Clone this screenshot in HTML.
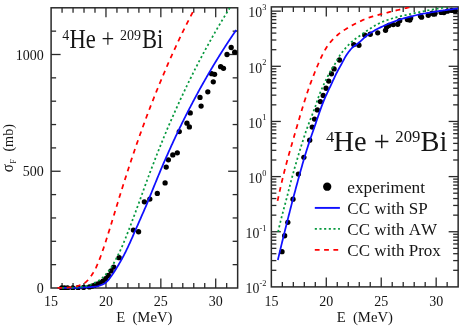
<!DOCTYPE html>
<html><head><meta charset="utf-8"><title>Fusion cross sections 4He + 209Bi</title>
<style>html,body{margin:0;padding:0;background:#fff;}body{width:463px;height:328px;overflow:hidden;font-family:"Liberation Serif",serif;}svg{display:block;will-change:transform;opacity:0.999}</style>
</head><body>
<svg width="463" height="328" viewBox="0 0 463 328">
<clipPath id="cl"><rect x="51.1" y="7.8" width="186.55" height="282.2"/></clipPath>
<clipPath id="cr"><rect x="271.35" y="6.9" width="186.79999999999995" height="280.0"/></clipPath>
<rect x="51.1" y="7.8" width="186.55" height="280.20" fill="none" stroke="#2a2a2a" stroke-width="1.5"/>
<line x1="62.07" y1="288.00" x2="62.07" y2="283.00" stroke="#2a2a2a" stroke-width="1.3" />
<line x1="62.07" y1="7.80" x2="62.07" y2="12.80" stroke="#2a2a2a" stroke-width="1.3" />
<line x1="73.05" y1="288.00" x2="73.05" y2="283.00" stroke="#2a2a2a" stroke-width="1.3" />
<line x1="73.05" y1="7.80" x2="73.05" y2="12.80" stroke="#2a2a2a" stroke-width="1.3" />
<line x1="84.02" y1="288.00" x2="84.02" y2="283.00" stroke="#2a2a2a" stroke-width="1.3" />
<line x1="84.02" y1="7.80" x2="84.02" y2="12.80" stroke="#2a2a2a" stroke-width="1.3" />
<line x1="94.99" y1="288.00" x2="94.99" y2="283.00" stroke="#2a2a2a" stroke-width="1.3" />
<line x1="94.99" y1="7.80" x2="94.99" y2="12.80" stroke="#2a2a2a" stroke-width="1.3" />
<line x1="105.97" y1="288.00" x2="105.97" y2="278.50" stroke="#2a2a2a" stroke-width="1.3" />
<line x1="105.97" y1="7.80" x2="105.97" y2="17.30" stroke="#2a2a2a" stroke-width="1.3" />
<line x1="116.94" y1="288.00" x2="116.94" y2="283.00" stroke="#2a2a2a" stroke-width="1.3" />
<line x1="116.94" y1="7.80" x2="116.94" y2="12.80" stroke="#2a2a2a" stroke-width="1.3" />
<line x1="127.91" y1="288.00" x2="127.91" y2="283.00" stroke="#2a2a2a" stroke-width="1.3" />
<line x1="127.91" y1="7.80" x2="127.91" y2="12.80" stroke="#2a2a2a" stroke-width="1.3" />
<line x1="138.89" y1="288.00" x2="138.89" y2="283.00" stroke="#2a2a2a" stroke-width="1.3" />
<line x1="138.89" y1="7.80" x2="138.89" y2="12.80" stroke="#2a2a2a" stroke-width="1.3" />
<line x1="149.86" y1="288.00" x2="149.86" y2="283.00" stroke="#2a2a2a" stroke-width="1.3" />
<line x1="149.86" y1="7.80" x2="149.86" y2="12.80" stroke="#2a2a2a" stroke-width="1.3" />
<line x1="160.84" y1="288.00" x2="160.84" y2="278.50" stroke="#2a2a2a" stroke-width="1.3" />
<line x1="160.84" y1="7.80" x2="160.84" y2="17.30" stroke="#2a2a2a" stroke-width="1.3" />
<line x1="171.81" y1="288.00" x2="171.81" y2="283.00" stroke="#2a2a2a" stroke-width="1.3" />
<line x1="171.81" y1="7.80" x2="171.81" y2="12.80" stroke="#2a2a2a" stroke-width="1.3" />
<line x1="182.78" y1="288.00" x2="182.78" y2="283.00" stroke="#2a2a2a" stroke-width="1.3" />
<line x1="182.78" y1="7.80" x2="182.78" y2="12.80" stroke="#2a2a2a" stroke-width="1.3" />
<line x1="193.76" y1="288.00" x2="193.76" y2="283.00" stroke="#2a2a2a" stroke-width="1.3" />
<line x1="193.76" y1="7.80" x2="193.76" y2="12.80" stroke="#2a2a2a" stroke-width="1.3" />
<line x1="204.73" y1="288.00" x2="204.73" y2="283.00" stroke="#2a2a2a" stroke-width="1.3" />
<line x1="204.73" y1="7.80" x2="204.73" y2="12.80" stroke="#2a2a2a" stroke-width="1.3" />
<line x1="215.70" y1="288.00" x2="215.70" y2="278.50" stroke="#2a2a2a" stroke-width="1.3" />
<line x1="215.70" y1="7.80" x2="215.70" y2="17.30" stroke="#2a2a2a" stroke-width="1.3" />
<line x1="226.68" y1="288.00" x2="226.68" y2="283.00" stroke="#2a2a2a" stroke-width="1.3" />
<line x1="226.68" y1="7.80" x2="226.68" y2="12.80" stroke="#2a2a2a" stroke-width="1.3" />
<line x1="51.10" y1="264.65" x2="56.10" y2="264.65" stroke="#2a2a2a" stroke-width="1.3" />
<line x1="237.65" y1="264.65" x2="232.65" y2="264.65" stroke="#2a2a2a" stroke-width="1.3" />
<line x1="51.10" y1="241.30" x2="56.10" y2="241.30" stroke="#2a2a2a" stroke-width="1.3" />
<line x1="237.65" y1="241.30" x2="232.65" y2="241.30" stroke="#2a2a2a" stroke-width="1.3" />
<line x1="51.10" y1="217.95" x2="56.10" y2="217.95" stroke="#2a2a2a" stroke-width="1.3" />
<line x1="237.65" y1="217.95" x2="232.65" y2="217.95" stroke="#2a2a2a" stroke-width="1.3" />
<line x1="51.10" y1="194.60" x2="56.10" y2="194.60" stroke="#2a2a2a" stroke-width="1.3" />
<line x1="237.65" y1="194.60" x2="232.65" y2="194.60" stroke="#2a2a2a" stroke-width="1.3" />
<line x1="51.10" y1="171.25" x2="60.60" y2="171.25" stroke="#2a2a2a" stroke-width="1.3" />
<line x1="237.65" y1="171.25" x2="228.15" y2="171.25" stroke="#2a2a2a" stroke-width="1.3" />
<line x1="51.10" y1="147.90" x2="56.10" y2="147.90" stroke="#2a2a2a" stroke-width="1.3" />
<line x1="237.65" y1="147.90" x2="232.65" y2="147.90" stroke="#2a2a2a" stroke-width="1.3" />
<line x1="51.10" y1="124.55" x2="56.10" y2="124.55" stroke="#2a2a2a" stroke-width="1.3" />
<line x1="237.65" y1="124.55" x2="232.65" y2="124.55" stroke="#2a2a2a" stroke-width="1.3" />
<line x1="51.10" y1="101.20" x2="56.10" y2="101.20" stroke="#2a2a2a" stroke-width="1.3" />
<line x1="237.65" y1="101.20" x2="232.65" y2="101.20" stroke="#2a2a2a" stroke-width="1.3" />
<line x1="51.10" y1="77.85" x2="56.10" y2="77.85" stroke="#2a2a2a" stroke-width="1.3" />
<line x1="237.65" y1="77.85" x2="232.65" y2="77.85" stroke="#2a2a2a" stroke-width="1.3" />
<line x1="51.10" y1="54.50" x2="60.60" y2="54.50" stroke="#2a2a2a" stroke-width="1.3" />
<line x1="237.65" y1="54.50" x2="228.15" y2="54.50" stroke="#2a2a2a" stroke-width="1.3" />
<line x1="51.10" y1="31.15" x2="56.10" y2="31.15" stroke="#2a2a2a" stroke-width="1.3" />
<line x1="237.65" y1="31.15" x2="232.65" y2="31.15" stroke="#2a2a2a" stroke-width="1.3" />
<g clip-path="url(#cl)" fill="none">
<circle cx="61.74" cy="287.99" r="2.65" fill="#000"/>
<circle cx="64.38" cy="287.98" r="2.65" fill="#000"/>
<circle cx="67.56" cy="287.97" r="2.65" fill="#000"/>
<circle cx="72.72" cy="287.91" r="2.65" fill="#000"/>
<circle cx="78.09" cy="287.74" r="2.65" fill="#000"/>
<circle cx="83.58" cy="287.48" r="2.65" fill="#000"/>
<circle cx="89.40" cy="286.93" r="2.65" fill="#000"/>
<circle cx="91.92" cy="286.16" r="2.65" fill="#000"/>
<circle cx="94.23" cy="285.42" r="2.65" fill="#000"/>
<circle cx="97.08" cy="284.22" r="2.65" fill="#000"/>
<circle cx="100.04" cy="282.65" r="2.65" fill="#000"/>
<circle cx="102.90" cy="281.09" r="2.65" fill="#000"/>
<circle cx="105.75" cy="278.66" r="2.65" fill="#000"/>
<circle cx="108.38" cy="275.39" r="2.65" fill="#000"/>
<circle cx="111.13" cy="270.95" r="2.65" fill="#000"/>
<circle cx="113.76" cy="267.10" r="2.65" fill="#000"/>
<circle cx="119.14" cy="257.64" r="2.65" fill="#000"/>
<circle cx="133.40" cy="230.09" r="2.65" fill="#000"/>
<circle cx="138.56" cy="231.73" r="2.65" fill="#000"/>
<circle cx="144.38" cy="201.84" r="2.65" fill="#000"/>
<circle cx="149.86" cy="199.04" r="2.65" fill="#000"/>
<circle cx="157.32" cy="193.43" r="2.65" fill="#000"/>
<circle cx="165.11" cy="182.93" r="2.65" fill="#000"/>
<circle cx="166.21" cy="167.05" r="2.65" fill="#000"/>
<circle cx="168.41" cy="159.81" r="2.65" fill="#000"/>
<circle cx="172.80" cy="154.91" r="2.65" fill="#000"/>
<circle cx="177.30" cy="152.80" r="2.65" fill="#000"/>
<circle cx="179.27" cy="131.56" r="2.65" fill="#000"/>
<circle cx="186.95" cy="123.15" r="2.65" fill="#000"/>
<circle cx="189.37" cy="126.88" r="2.65" fill="#000"/>
<circle cx="190.24" cy="112.88" r="2.65" fill="#000"/>
<circle cx="200.01" cy="97.46" r="2.65" fill="#000"/>
<circle cx="201.11" cy="106.10" r="2.65" fill="#000"/>
<circle cx="207.80" cy="91.86" r="2.65" fill="#000"/>
<circle cx="211.64" cy="73.65" r="2.65" fill="#000"/>
<circle cx="213.29" cy="81.82" r="2.65" fill="#000"/>
<circle cx="214.61" cy="74.35" r="2.65" fill="#000"/>
<circle cx="220.64" cy="66.64" r="2.65" fill="#000"/>
<circle cx="223.49" cy="68.28" r="2.65" fill="#000"/>
<circle cx="227.01" cy="54.50" r="2.65" fill="#000"/>
<circle cx="231.18" cy="47.50" r="2.65" fill="#000"/>
<circle cx="234.69" cy="52.16" r="2.65" fill="#000"/>
<path d="M57.40,288.00 L58.45,288.00 L59.50,288.00 L60.55,287.99 L61.59,287.99 L62.64,287.98 L63.69,287.98 L64.74,287.97 L65.79,287.96 L66.84,287.95 L67.89,287.94 L68.93,287.93 L69.98,287.92 L71.03,287.90 L72.08,287.89 L73.13,287.87 L74.17,287.85 L75.22,287.82 L76.27,287.79 L77.32,287.76 L78.37,287.72 L79.42,287.68 L80.46,287.63 L81.51,287.59 L82.56,287.54 L83.61,287.49 L84.65,287.44 L85.70,287.38 L86.75,287.33 L87.80,287.27 L88.85,287.21 L89.90,287.14 L90.95,287.06 L92.00,286.98 L93.05,286.88 L94.09,286.78 L95.12,286.65 L96.15,286.52 L97.17,286.32 L98.19,286.06 L99.20,285.74 L100.20,285.39 L101.17,285.02 L102.15,284.63 L103.12,284.18 L104.06,283.68 L104.97,283.14 L105.80,282.56 L106.57,281.92 L107.31,281.20 L108.01,280.43 L108.69,279.61 L109.34,278.76 L109.98,277.89 L110.61,277.02 L111.23,276.16 L111.85,275.32 L112.46,274.47 L113.05,273.61 L113.63,272.73 L114.20,271.85 L114.76,270.97 L115.32,270.07 L115.87,269.18 L116.42,268.28 L116.97,267.39 L117.51,266.49 L118.05,265.59 L118.59,264.69 L119.12,263.79 L119.65,262.88 L120.18,261.98 L120.70,261.06 L121.22,260.15 L121.73,259.24 L122.23,258.32 L122.74,257.40 L123.23,256.47 L123.72,255.55 L124.21,254.62 L124.68,253.69 L125.16,252.75 L125.63,251.81 L126.09,250.87 L126.55,249.93 L127.00,248.99 L127.45,248.04 L127.90,247.09 L128.35,246.14 L128.79,245.19 L129.23,244.24 L129.67,243.29 L130.11,242.33 L130.54,241.38 L130.97,240.42 L131.40,239.46 L131.82,238.50 L132.24,237.54 L132.66,236.58 L133.07,235.62 L133.49,234.66 L133.90,233.69 L134.32,232.73 L134.74,231.77 L135.15,230.81 L135.57,229.85 L136.00,228.89 L136.42,227.93 L136.84,226.97 L137.26,226.01 L137.68,225.05 L138.10,224.09 L138.53,223.13 L138.95,222.17 L139.37,221.21 L139.79,220.25 L140.21,219.29 L140.63,218.33 L141.05,217.37 L141.47,216.40 L141.89,215.44 L142.32,214.48 L142.74,213.52 L143.16,212.56 L143.58,211.60 L144.00,210.64 L144.42,209.68 L144.84,208.72 L145.26,207.76 L145.68,206.80 L146.09,205.83 L146.50,204.87 L146.91,203.90 L147.31,202.94 L147.71,201.97 L148.11,201.00 L148.50,200.03 L148.89,199.05 L149.28,198.08 L149.67,197.11 L150.06,196.13 L150.45,195.16 L150.84,194.18 L151.23,193.21 L151.62,192.24 L152.01,191.27 L152.41,190.29 L152.80,189.32 L153.19,188.35 L153.59,187.38 L153.98,186.41 L154.38,185.44 L154.77,184.46 L155.17,183.49 L155.56,182.52 L155.96,181.55 L156.36,180.58 L156.75,179.61 L157.15,178.64 L157.55,177.67 L157.95,176.70 L158.35,175.74 L158.75,174.77 L159.16,173.80 L159.56,172.83 L159.96,171.86 L160.36,170.89 L160.77,169.93 L161.18,168.96 L161.58,167.99 L161.99,167.03 L162.40,166.06 L162.81,165.10 L163.23,164.14 L163.65,163.17 L164.06,162.21 L164.48,161.25 L164.90,160.29 L165.33,159.33 L165.75,158.37 L166.18,157.41 L166.60,156.46 L167.03,155.50 L167.45,154.54 L167.88,153.58 L168.31,152.63 L168.74,151.67 L169.17,150.71 L169.59,149.75 L170.02,148.80 L170.45,147.84 L170.88,146.89 L171.31,145.93 L171.75,144.97 L172.18,144.02 L172.61,143.07 L173.05,142.11 L173.49,141.16 L173.93,140.21 L174.37,139.26 L174.81,138.31 L175.25,137.36 L175.70,136.41 L176.15,135.46 L176.60,134.51 L177.05,133.56 L177.50,132.62 L177.95,131.67 L178.40,130.73 L178.86,129.78 L179.31,128.84 L179.77,127.89 L180.23,126.95 L180.69,126.01 L181.15,125.06 L181.61,124.12 L182.07,123.18 L182.53,122.24 L182.99,121.30 L183.46,120.36 L183.93,119.42 L184.39,118.48 L184.86,117.54 L185.33,116.61 L185.81,115.67 L186.28,114.74 L186.75,113.80 L187.23,112.87 L187.71,111.93 L188.19,111.00 L188.67,110.07 L189.15,109.14 L189.64,108.21 L190.12,107.28 L190.61,106.35 L191.09,105.42 L191.58,104.49 L192.07,103.57 L192.56,102.64 L193.05,101.71 L193.54,100.78 L194.03,99.86 L194.52,98.93 L195.01,98.00 L195.50,97.08 L196.00,96.15 L196.49,95.23 L196.99,94.31 L197.48,93.38 L197.98,92.46 L198.48,91.54 L198.99,90.62 L199.49,89.70 L200.00,88.78 L200.50,87.86 L201.01,86.95 L201.53,86.03 L202.04,85.12 L202.56,84.21 L203.07,83.29 L203.59,82.38 L204.11,81.47 L204.63,80.56 L205.15,79.65 L205.67,78.74 L206.19,77.83 L206.72,76.92 L207.24,76.02 L207.77,75.11 L208.29,74.20 L208.82,73.29 L209.35,72.39 L209.88,71.48 L210.41,70.58 L210.94,69.68 L211.47,68.77 L212.01,67.87 L212.54,66.97 L213.08,66.07 L213.62,65.17 L214.16,64.27 L214.70,63.37 L215.24,62.48 L215.79,61.58 L216.33,60.68 L216.88,59.79 L217.43,58.89 L217.97,58.00 L218.53,57.11 L219.08,56.22 L219.63,55.33 L220.19,54.44 L220.74,53.55 L221.30,52.66 L221.86,51.78 L222.42,50.89 L222.99,50.01 L223.55,49.12 L224.12,48.24 L224.68,47.36 L225.25,46.48 L225.82,45.60 L226.39,44.72 L226.97,43.84 L227.54,42.96 L228.12,42.08 L228.69,41.21 L229.27,40.33 L229.85,39.46 L230.43,38.59 L231.01,37.71 L231.59,36.84 L232.18,35.97 L232.76,35.10 L233.35,34.23 L233.94,33.36 L234.52,32.50 L235.12,31.63 L235.71,30.76 L236.30,29.90" stroke="#1010ff" stroke-width="1.75" />
<path d="M57.40,287.90 L58.50,287.90 L59.59,287.89 L60.69,287.88 L61.78,287.86 L62.87,287.84 L63.97,287.82 L65.06,287.80 L66.16,287.77 L67.25,287.74 L68.34,287.70 L69.43,287.67 L70.52,287.63 L71.61,287.59 L72.71,287.55 L73.81,287.49 L74.91,287.41 L76.01,287.33 L77.11,287.24 L78.21,287.13 L79.31,287.02 L80.40,286.89 L81.48,286.76 L82.56,286.61 L83.63,286.46 L84.69,286.29 L85.74,286.12 L86.79,285.89 L87.85,285.62 L88.90,285.29 L89.96,284.93 L91.00,284.53 L92.04,284.09 L93.07,283.63 L94.08,283.14 L95.07,282.63 L96.04,282.11 L96.99,281.57 L97.92,281.03 L98.81,280.49 L99.69,279.91 L100.55,279.28 L101.41,278.61 L102.25,277.90 L103.07,277.16 L103.88,276.39 L104.67,275.59 L105.44,274.77 L106.20,273.94 L106.93,273.10 L107.65,272.25 L108.34,271.41 L109.00,270.57 L109.65,269.71 L110.28,268.83 L110.89,267.94 L111.49,267.02 L112.07,266.09 L112.63,265.15 L113.19,264.19 L113.74,263.23 L114.27,262.26 L114.80,261.29 L115.33,260.33 L115.85,259.36 L116.36,258.40 L116.87,257.43 L117.37,256.46 L117.86,255.49 L118.35,254.50 L118.82,253.52 L119.30,252.53 L119.76,251.54 L120.22,250.54 L120.68,249.55 L121.13,248.55 L121.58,247.55 L122.02,246.55 L122.46,245.55 L122.89,244.55 L123.32,243.55 L123.75,242.54 L124.17,241.53 L124.58,240.52 L125.00,239.50 L125.41,238.49 L125.81,237.47 L126.22,236.46 L126.63,235.44 L127.03,234.43 L127.43,233.41 L127.84,232.39 L128.23,231.37 L128.63,230.35 L129.02,229.33 L129.42,228.31 L129.81,227.29 L130.20,226.27 L130.58,225.25 L130.97,224.22 L131.36,223.20 L131.74,222.18 L132.13,221.15 L132.52,220.13 L132.90,219.11 L133.29,218.08 L133.67,217.06 L134.05,216.03 L134.43,215.01 L134.81,213.98 L135.19,212.96 L135.57,211.93 L135.95,210.91 L136.33,209.88 L136.71,208.85 L137.08,207.83 L137.46,206.80 L137.84,205.77 L138.21,204.75 L138.58,203.72 L138.96,202.69 L139.33,201.66 L139.70,200.63 L140.08,199.61 L140.45,198.58 L140.82,197.55 L141.19,196.52 L141.57,195.49 L141.94,194.47 L142.31,193.44 L142.68,192.41 L143.05,191.38 L143.42,190.35 L143.79,189.32 L144.16,188.29 L144.53,187.26 L144.90,186.23 L145.27,185.20 L145.65,184.18 L146.02,183.15 L146.40,182.12 L146.78,181.10 L147.16,180.07 L147.54,179.05 L147.93,178.02 L148.31,177.00 L148.70,175.98 L149.08,174.95 L149.47,173.93 L149.85,172.91 L150.24,171.88 L150.63,170.86 L151.02,169.84 L151.41,168.82 L151.80,167.79 L152.19,166.77 L152.58,165.75 L152.97,164.73 L153.36,163.71 L153.75,162.69 L154.14,161.67 L154.53,160.65 L154.93,159.63 L155.32,158.61 L155.72,157.59 L156.12,156.57 L156.52,155.55 L156.92,154.53 L157.32,153.51 L157.72,152.50 L158.13,151.48 L158.53,150.47 L158.94,149.45 L159.35,148.44 L159.75,147.42 L160.16,146.41 L160.57,145.39 L160.98,144.38 L161.39,143.37 L161.80,142.35 L162.21,141.34 L162.62,140.32 L163.04,139.31 L163.45,138.30 L163.86,137.29 L164.27,136.27 L164.69,135.26 L165.11,134.25 L165.53,133.24 L165.95,132.23 L166.37,131.22 L166.79,130.21 L167.22,129.21 L167.65,128.20 L168.09,127.20 L168.52,126.20 L168.96,125.19 L169.40,124.19 L169.84,123.19 L170.28,122.19 L170.72,121.19 L171.17,120.19 L171.61,119.19 L172.05,118.19 L172.49,117.19 L172.93,116.19 L173.38,115.19 L173.82,114.19 L174.26,113.19 L174.70,112.19 L175.15,111.19 L175.59,110.19 L176.04,109.19 L176.48,108.19 L176.93,107.19 L177.38,106.20 L177.83,105.20 L178.28,104.20 L178.73,103.21 L179.18,102.21 L179.64,101.22 L180.09,100.22 L180.55,99.23 L181.00,98.23 L181.46,97.24 L181.92,96.25 L182.38,95.26 L182.84,94.26 L183.31,93.27 L183.77,92.28 L184.24,91.30 L184.71,90.31 L185.18,89.32 L185.65,88.33 L186.13,87.35 L186.60,86.36 L187.08,85.38 L187.56,84.40 L188.03,83.41 L188.52,82.43 L189.00,81.45 L189.48,80.47 L189.96,79.48 L190.44,78.50 L190.93,77.52 L191.41,76.54 L191.90,75.56 L192.38,74.58 L192.87,73.60 L193.36,72.62 L193.85,71.65 L194.34,70.67 L194.83,69.69 L195.32,68.72 L195.82,67.74 L196.32,66.77 L196.82,65.79 L197.32,64.82 L197.82,63.85 L198.32,62.88 L198.83,61.91 L199.33,60.94 L199.84,59.97 L200.35,59.00 L200.86,58.04 L201.37,57.07 L201.89,56.11 L202.40,55.14 L202.92,54.18 L203.44,53.21 L203.96,52.25 L204.48,51.29 L205.00,50.33 L205.53,49.37 L206.05,48.41 L206.58,47.45 L207.11,46.49 L207.64,45.54 L208.17,44.58 L208.70,43.62 L209.23,42.67 L209.76,41.71 L210.29,40.76 L210.83,39.80 L211.36,38.85 L211.89,37.89 L212.43,36.94 L212.96,35.99 L213.50,35.03 L214.04,34.08 L214.58,33.13 L215.13,32.18 L215.67,31.23 L216.22,30.29 L216.77,29.34 L217.32,28.40 L217.87,27.45 L218.43,26.51 L218.98,25.57 L219.54,24.63 L220.10,23.69 L220.66,22.75 L221.23,21.82 L221.79,20.88 L222.36,19.94 L222.93,19.01 L223.49,18.07 L224.06,17.14 L224.63,16.21 L225.21,15.28 L225.78,14.34 L226.35,13.41 L226.93,12.48 L227.51,11.56 L228.09,10.63 L228.67,9.70 L229.25,8.77 L229.83,7.85 L230.41,6.92 L231.00,6.00" stroke="#06993e" stroke-width="1.75" stroke-dasharray="2.1 2.56"/>
<path d="M57.40,287.90 L58.43,287.90 L59.46,287.88 L60.49,287.87 L61.51,287.84 L62.52,287.81 L63.54,287.77 L64.55,287.73 L65.55,287.68 L66.56,287.62 L67.56,287.56 L68.55,287.50 L69.54,287.43 L70.53,287.36 L71.51,287.28 L72.51,287.17 L73.52,287.01 L74.54,286.81 L75.56,286.57 L76.58,286.29 L77.59,285.98 L78.59,285.64 L79.57,285.28 L80.54,284.89 L81.47,284.48 L82.38,284.06 L83.25,283.62 L84.07,283.18 L84.86,282.72 L85.62,282.20 L86.36,281.61 L87.08,280.96 L87.79,280.24 L88.47,279.48 L89.14,278.68 L89.80,277.84 L90.43,276.98 L91.04,276.10 L91.64,275.22 L92.21,274.33 L92.77,273.45 L93.30,272.59 L93.82,271.74 L94.31,270.88 L94.79,270.01 L95.26,269.12 L95.71,268.22 L96.15,267.31 L96.57,266.39 L96.99,265.46 L97.39,264.52 L97.79,263.58 L98.18,262.64 L98.57,261.70 L98.95,260.75 L99.33,259.82 L99.71,258.88 L100.08,257.94 L100.44,257.00 L100.79,256.06 L101.14,255.11 L101.48,254.16 L101.82,253.21 L102.15,252.25 L102.48,251.30 L102.80,250.34 L103.13,249.38 L103.45,248.43 L103.77,247.47 L104.09,246.51 L104.42,245.55 L104.74,244.60 L105.05,243.64 L105.37,242.68 L105.68,241.72 L105.99,240.76 L106.29,239.80 L106.60,238.83 L106.91,237.87 L107.21,236.91 L107.51,235.95 L107.81,234.98 L108.12,234.02 L108.42,233.06 L108.72,232.09 L109.02,231.13 L109.32,230.17 L109.62,229.20 L109.92,228.24 L110.22,227.27 L110.51,226.31 L110.81,225.34 L111.11,224.38 L111.40,223.41 L111.70,222.45 L111.99,221.48 L112.29,220.52 L112.58,219.55 L112.88,218.59 L113.18,217.62 L113.47,216.66 L113.77,215.69 L114.06,214.72 L114.36,213.76 L114.66,212.79 L114.95,211.83 L115.25,210.86 L115.54,209.90 L115.84,208.93 L116.13,207.97 L116.43,207.00 L116.72,206.04 L117.01,205.07 L117.31,204.10 L117.60,203.14 L117.89,202.17 L118.18,201.20 L118.47,200.24 L118.76,199.27 L119.06,198.30 L119.35,197.34 L119.64,196.37 L119.94,195.41 L120.23,194.44 L120.53,193.48 L120.83,192.51 L121.13,191.55 L121.43,190.59 L121.73,189.62 L122.04,188.66 L122.34,187.70 L122.65,186.74 L122.96,185.77 L123.27,184.81 L123.57,183.85 L123.88,182.89 L124.19,181.93 L124.50,180.97 L124.81,180.01 L125.11,179.04 L125.42,178.08 L125.73,177.12 L126.03,176.16 L126.34,175.20 L126.65,174.24 L126.95,173.27 L127.26,172.31 L127.57,171.35 L127.88,170.39 L128.19,169.43 L128.50,168.47 L128.81,167.51 L129.12,166.55 L129.44,165.59 L129.75,164.63 L130.07,163.67 L130.39,162.71 L130.71,161.76 L131.03,160.80 L131.35,159.84 L131.67,158.88 L131.99,157.93 L132.32,156.97 L132.64,156.02 L132.96,155.06 L133.29,154.10 L133.61,153.15 L133.94,152.19 L134.26,151.24 L134.59,150.28 L134.91,149.32 L135.24,148.37 L135.56,147.41 L135.89,146.46 L136.22,145.50 L136.55,144.55 L136.87,143.59 L137.20,142.64 L137.54,141.69 L137.87,140.73 L138.20,139.78 L138.54,138.83 L138.87,137.88 L139.21,136.93 L139.55,135.97 L139.89,135.02 L140.24,134.07 L140.58,133.13 L140.92,132.18 L141.27,131.23 L141.61,130.28 L141.96,129.33 L142.30,128.38 L142.65,127.43 L143.00,126.48 L143.34,125.54 L143.69,124.59 L144.03,123.64 L144.38,122.69 L144.73,121.74 L145.08,120.80 L145.42,119.85 L145.77,118.90 L146.12,117.95 L146.47,117.01 L146.82,116.06 L147.18,115.11 L147.53,114.17 L147.89,113.23 L148.25,112.28 L148.61,111.34 L148.97,110.40 L149.33,109.45 L149.70,108.51 L150.06,107.57 L150.43,106.63 L150.80,105.69 L151.17,104.75 L151.54,103.81 L151.91,102.87 L152.28,101.93 L152.65,100.99 L153.02,100.06 L153.39,99.12 L153.76,98.18 L154.13,97.24 L154.50,96.30 L154.87,95.36 L155.25,94.42 L155.62,93.49 L156.00,92.55 L156.37,91.61 L156.75,90.67 L157.13,89.74 L157.51,88.80 L157.89,87.87 L158.27,86.93 L158.65,86.00 L159.04,85.07 L159.42,84.13 L159.81,83.20 L160.20,82.27 L160.59,81.34 L160.98,80.41 L161.37,79.48 L161.76,78.55 L162.16,77.62 L162.55,76.69 L162.94,75.76 L163.33,74.83 L163.73,73.90 L164.12,72.97 L164.51,72.04 L164.90,71.11 L165.30,70.18 L165.69,69.25 L166.08,68.32 L166.47,67.39 L166.87,66.46 L167.27,65.53 L167.66,64.60 L168.06,63.67 L168.47,62.75 L168.87,61.82 L169.28,60.90 L169.69,59.98 L170.10,59.06 L170.51,58.14 L170.93,57.22 L171.35,56.30 L171.77,55.38 L172.19,54.46 L172.62,53.55 L173.04,52.63 L173.46,51.71 L173.89,50.80 L174.31,49.88 L174.73,48.96 L175.15,48.05 L175.58,47.13 L176.00,46.21 L176.42,45.29 L176.84,44.38 L177.26,43.46 L177.68,42.54 L178.11,41.63 L178.53,40.71 L178.96,39.79 L179.39,38.88 L179.82,37.97 L180.25,37.05 L180.68,36.14 L181.12,35.23 L181.56,34.33 L182.00,33.42 L182.45,32.51 L182.89,31.61 L183.34,30.70 L183.79,29.80 L184.24,28.89 L184.69,27.99 L185.14,27.09 L185.60,26.19 L186.05,25.28 L186.51,24.38 L186.96,23.48 L187.41,22.58 L187.87,21.68 L188.33,20.78 L188.78,19.88 L189.24,18.98 L189.70,18.08 L190.16,17.18 L190.62,16.28 L191.08,15.38 L191.54,14.49 L192.01,13.59 L192.47,12.69 L192.93,11.80 L193.40,10.90" stroke="#ff0000" stroke-width="1.75" stroke-dasharray="4.8 4.5"/>
</g>
<rect x="271.35" y="6.9" width="186.80" height="280.00" fill="none" stroke="#2a2a2a" stroke-width="1.5"/>
<line x1="282.34" y1="286.90" x2="282.34" y2="281.90" stroke="#2a2a2a" stroke-width="1.3" />
<line x1="282.34" y1="6.90" x2="282.34" y2="11.90" stroke="#2a2a2a" stroke-width="1.3" />
<line x1="293.33" y1="286.90" x2="293.33" y2="281.90" stroke="#2a2a2a" stroke-width="1.3" />
<line x1="293.33" y1="6.90" x2="293.33" y2="11.90" stroke="#2a2a2a" stroke-width="1.3" />
<line x1="304.31" y1="286.90" x2="304.31" y2="281.90" stroke="#2a2a2a" stroke-width="1.3" />
<line x1="304.31" y1="6.90" x2="304.31" y2="11.90" stroke="#2a2a2a" stroke-width="1.3" />
<line x1="315.30" y1="286.90" x2="315.30" y2="281.90" stroke="#2a2a2a" stroke-width="1.3" />
<line x1="315.30" y1="6.90" x2="315.30" y2="11.90" stroke="#2a2a2a" stroke-width="1.3" />
<line x1="326.29" y1="286.90" x2="326.29" y2="277.40" stroke="#2a2a2a" stroke-width="1.3" />
<line x1="326.29" y1="6.90" x2="326.29" y2="16.40" stroke="#2a2a2a" stroke-width="1.3" />
<line x1="337.28" y1="286.90" x2="337.28" y2="281.90" stroke="#2a2a2a" stroke-width="1.3" />
<line x1="337.28" y1="6.90" x2="337.28" y2="11.90" stroke="#2a2a2a" stroke-width="1.3" />
<line x1="348.27" y1="286.90" x2="348.27" y2="281.90" stroke="#2a2a2a" stroke-width="1.3" />
<line x1="348.27" y1="6.90" x2="348.27" y2="11.90" stroke="#2a2a2a" stroke-width="1.3" />
<line x1="359.26" y1="286.90" x2="359.26" y2="281.90" stroke="#2a2a2a" stroke-width="1.3" />
<line x1="359.26" y1="6.90" x2="359.26" y2="11.90" stroke="#2a2a2a" stroke-width="1.3" />
<line x1="370.24" y1="286.90" x2="370.24" y2="281.90" stroke="#2a2a2a" stroke-width="1.3" />
<line x1="370.24" y1="6.90" x2="370.24" y2="11.90" stroke="#2a2a2a" stroke-width="1.3" />
<line x1="381.23" y1="286.90" x2="381.23" y2="277.40" stroke="#2a2a2a" stroke-width="1.3" />
<line x1="381.23" y1="6.90" x2="381.23" y2="16.40" stroke="#2a2a2a" stroke-width="1.3" />
<line x1="392.22" y1="286.90" x2="392.22" y2="281.90" stroke="#2a2a2a" stroke-width="1.3" />
<line x1="392.22" y1="6.90" x2="392.22" y2="11.90" stroke="#2a2a2a" stroke-width="1.3" />
<line x1="403.21" y1="286.90" x2="403.21" y2="281.90" stroke="#2a2a2a" stroke-width="1.3" />
<line x1="403.21" y1="6.90" x2="403.21" y2="11.90" stroke="#2a2a2a" stroke-width="1.3" />
<line x1="414.20" y1="286.90" x2="414.20" y2="281.90" stroke="#2a2a2a" stroke-width="1.3" />
<line x1="414.20" y1="6.90" x2="414.20" y2="11.90" stroke="#2a2a2a" stroke-width="1.3" />
<line x1="425.19" y1="286.90" x2="425.19" y2="281.90" stroke="#2a2a2a" stroke-width="1.3" />
<line x1="425.19" y1="6.90" x2="425.19" y2="11.90" stroke="#2a2a2a" stroke-width="1.3" />
<line x1="436.17" y1="286.90" x2="436.17" y2="277.40" stroke="#2a2a2a" stroke-width="1.3" />
<line x1="436.17" y1="6.90" x2="436.17" y2="16.40" stroke="#2a2a2a" stroke-width="1.3" />
<line x1="447.16" y1="286.90" x2="447.16" y2="281.90" stroke="#2a2a2a" stroke-width="1.3" />
<line x1="447.16" y1="6.90" x2="447.16" y2="11.90" stroke="#2a2a2a" stroke-width="1.3" />
<line x1="271.35" y1="270.30" x2="276.35" y2="270.30" stroke="#2a2a2a" stroke-width="1.3" />
<line x1="458.15" y1="270.30" x2="453.15" y2="270.30" stroke="#2a2a2a" stroke-width="1.3" />
<line x1="271.35" y1="260.59" x2="276.35" y2="260.59" stroke="#2a2a2a" stroke-width="1.3" />
<line x1="458.15" y1="260.59" x2="453.15" y2="260.59" stroke="#2a2a2a" stroke-width="1.3" />
<line x1="271.35" y1="253.70" x2="276.35" y2="253.70" stroke="#2a2a2a" stroke-width="1.3" />
<line x1="458.15" y1="253.70" x2="453.15" y2="253.70" stroke="#2a2a2a" stroke-width="1.3" />
<line x1="271.35" y1="248.35" x2="276.35" y2="248.35" stroke="#2a2a2a" stroke-width="1.3" />
<line x1="458.15" y1="248.35" x2="453.15" y2="248.35" stroke="#2a2a2a" stroke-width="1.3" />
<line x1="271.35" y1="243.98" x2="276.35" y2="243.98" stroke="#2a2a2a" stroke-width="1.3" />
<line x1="458.15" y1="243.98" x2="453.15" y2="243.98" stroke="#2a2a2a" stroke-width="1.3" />
<line x1="271.35" y1="240.29" x2="276.35" y2="240.29" stroke="#2a2a2a" stroke-width="1.3" />
<line x1="458.15" y1="240.29" x2="453.15" y2="240.29" stroke="#2a2a2a" stroke-width="1.3" />
<line x1="271.35" y1="237.09" x2="276.35" y2="237.09" stroke="#2a2a2a" stroke-width="1.3" />
<line x1="458.15" y1="237.09" x2="453.15" y2="237.09" stroke="#2a2a2a" stroke-width="1.3" />
<line x1="271.35" y1="234.27" x2="276.35" y2="234.27" stroke="#2a2a2a" stroke-width="1.3" />
<line x1="458.15" y1="234.27" x2="453.15" y2="234.27" stroke="#2a2a2a" stroke-width="1.3" />
<line x1="271.35" y1="231.75" x2="280.85" y2="231.75" stroke="#2a2a2a" stroke-width="1.3" />
<line x1="458.15" y1="231.75" x2="448.65" y2="231.75" stroke="#2a2a2a" stroke-width="1.3" />
<line x1="271.35" y1="215.15" x2="276.35" y2="215.15" stroke="#2a2a2a" stroke-width="1.3" />
<line x1="458.15" y1="215.15" x2="453.15" y2="215.15" stroke="#2a2a2a" stroke-width="1.3" />
<line x1="271.35" y1="205.44" x2="276.35" y2="205.44" stroke="#2a2a2a" stroke-width="1.3" />
<line x1="458.15" y1="205.44" x2="453.15" y2="205.44" stroke="#2a2a2a" stroke-width="1.3" />
<line x1="271.35" y1="198.55" x2="276.35" y2="198.55" stroke="#2a2a2a" stroke-width="1.3" />
<line x1="458.15" y1="198.55" x2="453.15" y2="198.55" stroke="#2a2a2a" stroke-width="1.3" />
<line x1="271.35" y1="193.20" x2="276.35" y2="193.20" stroke="#2a2a2a" stroke-width="1.3" />
<line x1="458.15" y1="193.20" x2="453.15" y2="193.20" stroke="#2a2a2a" stroke-width="1.3" />
<line x1="271.35" y1="188.83" x2="276.35" y2="188.83" stroke="#2a2a2a" stroke-width="1.3" />
<line x1="458.15" y1="188.83" x2="453.15" y2="188.83" stroke="#2a2a2a" stroke-width="1.3" />
<line x1="271.35" y1="185.14" x2="276.35" y2="185.14" stroke="#2a2a2a" stroke-width="1.3" />
<line x1="458.15" y1="185.14" x2="453.15" y2="185.14" stroke="#2a2a2a" stroke-width="1.3" />
<line x1="271.35" y1="181.94" x2="276.35" y2="181.94" stroke="#2a2a2a" stroke-width="1.3" />
<line x1="458.15" y1="181.94" x2="453.15" y2="181.94" stroke="#2a2a2a" stroke-width="1.3" />
<line x1="271.35" y1="179.12" x2="276.35" y2="179.12" stroke="#2a2a2a" stroke-width="1.3" />
<line x1="458.15" y1="179.12" x2="453.15" y2="179.12" stroke="#2a2a2a" stroke-width="1.3" />
<line x1="271.35" y1="176.60" x2="280.85" y2="176.60" stroke="#2a2a2a" stroke-width="1.3" />
<line x1="458.15" y1="176.60" x2="448.65" y2="176.60" stroke="#2a2a2a" stroke-width="1.3" />
<line x1="271.35" y1="160.00" x2="276.35" y2="160.00" stroke="#2a2a2a" stroke-width="1.3" />
<line x1="458.15" y1="160.00" x2="453.15" y2="160.00" stroke="#2a2a2a" stroke-width="1.3" />
<line x1="271.35" y1="150.29" x2="276.35" y2="150.29" stroke="#2a2a2a" stroke-width="1.3" />
<line x1="458.15" y1="150.29" x2="453.15" y2="150.29" stroke="#2a2a2a" stroke-width="1.3" />
<line x1="271.35" y1="143.40" x2="276.35" y2="143.40" stroke="#2a2a2a" stroke-width="1.3" />
<line x1="458.15" y1="143.40" x2="453.15" y2="143.40" stroke="#2a2a2a" stroke-width="1.3" />
<line x1="271.35" y1="138.05" x2="276.35" y2="138.05" stroke="#2a2a2a" stroke-width="1.3" />
<line x1="458.15" y1="138.05" x2="453.15" y2="138.05" stroke="#2a2a2a" stroke-width="1.3" />
<line x1="271.35" y1="133.68" x2="276.35" y2="133.68" stroke="#2a2a2a" stroke-width="1.3" />
<line x1="458.15" y1="133.68" x2="453.15" y2="133.68" stroke="#2a2a2a" stroke-width="1.3" />
<line x1="271.35" y1="129.99" x2="276.35" y2="129.99" stroke="#2a2a2a" stroke-width="1.3" />
<line x1="458.15" y1="129.99" x2="453.15" y2="129.99" stroke="#2a2a2a" stroke-width="1.3" />
<line x1="271.35" y1="126.79" x2="276.35" y2="126.79" stroke="#2a2a2a" stroke-width="1.3" />
<line x1="458.15" y1="126.79" x2="453.15" y2="126.79" stroke="#2a2a2a" stroke-width="1.3" />
<line x1="271.35" y1="123.97" x2="276.35" y2="123.97" stroke="#2a2a2a" stroke-width="1.3" />
<line x1="458.15" y1="123.97" x2="453.15" y2="123.97" stroke="#2a2a2a" stroke-width="1.3" />
<line x1="271.35" y1="121.45" x2="280.85" y2="121.45" stroke="#2a2a2a" stroke-width="1.3" />
<line x1="458.15" y1="121.45" x2="448.65" y2="121.45" stroke="#2a2a2a" stroke-width="1.3" />
<line x1="271.35" y1="104.85" x2="276.35" y2="104.85" stroke="#2a2a2a" stroke-width="1.3" />
<line x1="458.15" y1="104.85" x2="453.15" y2="104.85" stroke="#2a2a2a" stroke-width="1.3" />
<line x1="271.35" y1="95.14" x2="276.35" y2="95.14" stroke="#2a2a2a" stroke-width="1.3" />
<line x1="458.15" y1="95.14" x2="453.15" y2="95.14" stroke="#2a2a2a" stroke-width="1.3" />
<line x1="271.35" y1="88.25" x2="276.35" y2="88.25" stroke="#2a2a2a" stroke-width="1.3" />
<line x1="458.15" y1="88.25" x2="453.15" y2="88.25" stroke="#2a2a2a" stroke-width="1.3" />
<line x1="271.35" y1="82.90" x2="276.35" y2="82.90" stroke="#2a2a2a" stroke-width="1.3" />
<line x1="458.15" y1="82.90" x2="453.15" y2="82.90" stroke="#2a2a2a" stroke-width="1.3" />
<line x1="271.35" y1="78.53" x2="276.35" y2="78.53" stroke="#2a2a2a" stroke-width="1.3" />
<line x1="458.15" y1="78.53" x2="453.15" y2="78.53" stroke="#2a2a2a" stroke-width="1.3" />
<line x1="271.35" y1="74.84" x2="276.35" y2="74.84" stroke="#2a2a2a" stroke-width="1.3" />
<line x1="458.15" y1="74.84" x2="453.15" y2="74.84" stroke="#2a2a2a" stroke-width="1.3" />
<line x1="271.35" y1="71.64" x2="276.35" y2="71.64" stroke="#2a2a2a" stroke-width="1.3" />
<line x1="458.15" y1="71.64" x2="453.15" y2="71.64" stroke="#2a2a2a" stroke-width="1.3" />
<line x1="271.35" y1="68.82" x2="276.35" y2="68.82" stroke="#2a2a2a" stroke-width="1.3" />
<line x1="458.15" y1="68.82" x2="453.15" y2="68.82" stroke="#2a2a2a" stroke-width="1.3" />
<line x1="271.35" y1="66.30" x2="280.85" y2="66.30" stroke="#2a2a2a" stroke-width="1.3" />
<line x1="458.15" y1="66.30" x2="448.65" y2="66.30" stroke="#2a2a2a" stroke-width="1.3" />
<line x1="271.35" y1="49.70" x2="276.35" y2="49.70" stroke="#2a2a2a" stroke-width="1.3" />
<line x1="458.15" y1="49.70" x2="453.15" y2="49.70" stroke="#2a2a2a" stroke-width="1.3" />
<line x1="271.35" y1="39.99" x2="276.35" y2="39.99" stroke="#2a2a2a" stroke-width="1.3" />
<line x1="458.15" y1="39.99" x2="453.15" y2="39.99" stroke="#2a2a2a" stroke-width="1.3" />
<line x1="271.35" y1="33.10" x2="276.35" y2="33.10" stroke="#2a2a2a" stroke-width="1.3" />
<line x1="458.15" y1="33.10" x2="453.15" y2="33.10" stroke="#2a2a2a" stroke-width="1.3" />
<line x1="271.35" y1="27.75" x2="276.35" y2="27.75" stroke="#2a2a2a" stroke-width="1.3" />
<line x1="458.15" y1="27.75" x2="453.15" y2="27.75" stroke="#2a2a2a" stroke-width="1.3" />
<line x1="271.35" y1="23.38" x2="276.35" y2="23.38" stroke="#2a2a2a" stroke-width="1.3" />
<line x1="458.15" y1="23.38" x2="453.15" y2="23.38" stroke="#2a2a2a" stroke-width="1.3" />
<line x1="271.35" y1="19.69" x2="276.35" y2="19.69" stroke="#2a2a2a" stroke-width="1.3" />
<line x1="458.15" y1="19.69" x2="453.15" y2="19.69" stroke="#2a2a2a" stroke-width="1.3" />
<line x1="271.35" y1="16.49" x2="276.35" y2="16.49" stroke="#2a2a2a" stroke-width="1.3" />
<line x1="458.15" y1="16.49" x2="453.15" y2="16.49" stroke="#2a2a2a" stroke-width="1.3" />
<line x1="271.35" y1="13.67" x2="276.35" y2="13.67" stroke="#2a2a2a" stroke-width="1.3" />
<line x1="458.15" y1="13.67" x2="453.15" y2="13.67" stroke="#2a2a2a" stroke-width="1.3" />
<line x1="271.35" y1="11.15" x2="280.85" y2="11.15" stroke="#2a2a2a" stroke-width="1.3" />
<line x1="458.15" y1="11.15" x2="448.65" y2="11.15" stroke="#2a2a2a" stroke-width="1.3" />
<g clip-path="url(#cr)" fill="none">
<circle cx="282.01" cy="251.63" r="2.65" fill="#000"/>
<circle cx="284.65" cy="235.76" r="2.65" fill="#000"/>
<circle cx="287.83" cy="222.36" r="2.65" fill="#000"/>
<circle cx="293.00" cy="199.15" r="2.65" fill="#000"/>
<circle cx="298.38" cy="174.10" r="2.65" fill="#000"/>
<circle cx="303.88" cy="157.28" r="2.65" fill="#000"/>
<circle cx="309.70" cy="140.15" r="2.65" fill="#000"/>
<circle cx="312.23" cy="127.10" r="2.65" fill="#000"/>
<circle cx="314.53" cy="119.06" r="2.65" fill="#000"/>
<circle cx="317.39" cy="109.90" r="2.65" fill="#000"/>
<circle cx="320.36" cy="101.61" r="2.65" fill="#000"/>
<circle cx="323.21" cy="95.46" r="2.65" fill="#000"/>
<circle cx="326.07" cy="88.25" r="2.65" fill="#000"/>
<circle cx="328.71" cy="81.06" r="2.65" fill="#000"/>
<circle cx="331.46" cy="73.84" r="2.65" fill="#000"/>
<circle cx="334.09" cy="68.96" r="2.65" fill="#000"/>
<circle cx="339.48" cy="60.02" r="2.65" fill="#000"/>
<circle cx="353.76" cy="44.55" r="2.65" fill="#000"/>
<circle cx="358.93" cy="45.23" r="2.65" fill="#000"/>
<circle cx="364.75" cy="35.03" r="2.65" fill="#000"/>
<circle cx="370.24" cy="34.26" r="2.65" fill="#000"/>
<circle cx="377.72" cy="32.80" r="2.65" fill="#000"/>
<circle cx="385.52" cy="30.28" r="2.65" fill="#000"/>
<circle cx="386.62" cy="26.90" r="2.65" fill="#000"/>
<circle cx="388.81" cy="25.51" r="2.65" fill="#000"/>
<circle cx="393.21" cy="24.61" r="2.65" fill="#000"/>
<circle cx="397.71" cy="24.24" r="2.65" fill="#000"/>
<circle cx="399.69" cy="20.74" r="2.65" fill="#000"/>
<circle cx="407.38" cy="19.49" r="2.65" fill="#000"/>
<circle cx="409.80" cy="20.04" r="2.65" fill="#000"/>
<circle cx="410.68" cy="18.04" r="2.65" fill="#000"/>
<circle cx="420.46" cy="16.02" r="2.65" fill="#000"/>
<circle cx="421.56" cy="17.13" r="2.65" fill="#000"/>
<circle cx="428.26" cy="15.33" r="2.65" fill="#000"/>
<circle cx="432.11" cy="13.20" r="2.65" fill="#000"/>
<circle cx="433.76" cy="14.13" r="2.65" fill="#000"/>
<circle cx="435.07" cy="13.28" r="2.65" fill="#000"/>
<circle cx="441.12" cy="12.43" r="2.65" fill="#000"/>
<circle cx="443.98" cy="12.61" r="2.65" fill="#000"/>
<circle cx="447.49" cy="11.15" r="2.65" fill="#000"/>
<circle cx="451.67" cy="10.44" r="2.65" fill="#000"/>
<circle cx="455.18" cy="10.91" r="2.65" fill="#000"/>
<path d="M277.85,260.00 L278.10,258.96 L278.34,257.92 L278.59,256.87 L278.83,255.83 L279.08,254.79 L279.33,253.75 L279.58,252.71 L279.82,251.67 L280.07,250.62 L280.32,249.58 L280.57,248.54 L280.82,247.50 L281.07,246.46 L281.32,245.42 L281.58,244.38 L281.83,243.34 L282.08,242.30 L282.33,241.26 L282.59,240.22 L282.84,239.18 L283.10,238.14 L283.35,237.10 L283.61,236.06 L283.86,235.02 L284.12,233.98 L284.37,232.94 L284.63,231.90 L284.89,230.86 L285.15,229.82 L285.40,228.78 L285.66,227.74 L285.92,226.70 L286.18,225.67 L286.44,224.63 L286.70,223.59 L286.96,222.55 L287.23,221.51 L287.49,220.47 L287.75,219.44 L288.01,218.40 L288.28,217.36 L288.54,216.32 L288.80,215.29 L289.07,214.25 L289.33,213.21 L289.60,212.17 L289.86,211.14 L290.13,210.10 L290.39,209.06 L290.66,208.02 L290.93,206.99 L291.20,205.95 L291.46,204.91 L291.73,203.88 L292.00,202.84 L292.27,201.81 L292.54,200.77 L292.81,199.73 L293.09,198.70 L293.36,197.66 L293.63,196.63 L293.90,195.59 L294.18,194.56 L294.45,193.52 L294.72,192.49 L295.00,191.45 L295.28,190.42 L295.55,189.38 L295.83,188.35 L296.11,187.31 L296.38,186.28 L296.66,185.25 L296.94,184.21 L297.22,183.18 L297.50,182.15 L297.78,181.11 L298.06,180.08 L298.35,179.05 L298.63,178.02 L298.91,176.98 L299.19,175.95 L299.48,174.92 L299.76,173.89 L300.05,172.85 L300.34,171.82 L300.62,170.79 L300.91,169.76 L301.20,168.73 L301.49,167.70 L301.79,166.67 L302.08,165.64 L302.37,164.61 L302.67,163.58 L302.97,162.55 L303.27,161.52 L303.56,160.50 L303.87,159.47 L304.17,158.44 L304.47,157.42 L304.78,156.39 L305.09,155.37 L305.40,154.34 L305.71,153.32 L306.03,152.29 L306.34,151.27 L306.66,150.25 L306.98,149.23 L307.30,148.20 L307.63,147.18 L307.95,146.16 L308.28,145.14 L308.61,144.13 L308.94,143.11 L309.28,142.09 L309.61,141.08 L309.95,140.06 L310.29,139.05 L310.64,138.03 L310.98,137.02 L311.33,136.01 L311.68,134.99 L312.03,133.98 L312.38,132.97 L312.73,131.96 L313.08,130.95 L313.43,129.94 L313.79,128.92 L314.14,127.91 L314.49,126.90 L314.84,125.89 L315.20,124.88 L315.55,123.87 L315.89,122.86 L316.24,121.84 L316.59,120.83 L316.93,119.81 L317.27,118.80 L317.62,117.78 L317.96,116.77 L318.30,115.75 L318.65,114.74 L318.99,113.73 L319.34,112.71 L319.69,111.70 L320.05,110.69 L320.40,109.68 L320.76,108.67 L321.13,107.67 L321.49,106.66 L321.87,105.66 L322.25,104.66 L322.63,103.66 L323.02,102.67 L323.42,101.67 L323.83,100.68 L324.24,99.70 L324.66,98.71 L325.08,97.72 L325.51,96.74 L325.94,95.76 L326.37,94.78 L326.81,93.81 L327.25,92.83 L327.71,91.86 L328.16,90.89 L328.62,89.92 L329.08,88.96 L329.55,87.99 L330.01,87.03 L330.47,86.06 L330.93,85.09 L331.39,84.13 L331.84,83.16 L332.29,82.18 L332.73,81.21 L333.17,80.23 L333.62,79.26 L334.06,78.28 L334.51,77.31 L334.97,76.34 L335.43,75.38 L335.89,74.41 L336.37,73.46 L336.86,72.51 L337.36,71.56 L337.86,70.61 L338.37,69.67 L338.89,68.73 L339.41,67.80 L339.93,66.86 L340.45,65.92 L340.97,64.99 L341.48,64.05 L341.99,63.10 L342.49,62.15 L342.99,61.20 L343.49,60.25 L344.00,59.30 L344.51,58.35 L345.03,57.42 L345.57,56.50 L346.13,55.59 L346.71,54.71 L347.31,53.82 L347.93,52.94 L348.56,52.07 L349.22,51.21 L349.90,50.36 L350.59,49.53 L351.31,48.74 L352.04,47.97 L352.80,47.24 L353.60,46.56 L354.46,45.92 L355.34,45.31 L356.24,44.70 L357.11,44.07 L357.96,43.42 L358.79,42.73 L359.61,42.04 L360.41,41.32 L361.21,40.60 L362.01,39.87 L362.80,39.14 L363.60,38.41 L364.39,37.69 L365.20,36.98 L366.01,36.28 L366.83,35.59 L367.66,34.93 L368.51,34.30 L369.37,33.70 L370.25,33.11 L371.15,32.54 L372.05,31.98 L372.97,31.43 L373.89,30.89 L374.83,30.36 L375.77,29.84 L376.72,29.33 L377.67,28.82 L378.63,28.33 L379.60,27.85 L380.56,27.37 L381.53,26.91 L382.50,26.45 L383.47,26.00 L384.44,25.55 L385.41,25.12 L386.39,24.68 L387.37,24.26 L388.36,23.84 L389.35,23.42 L390.34,23.02 L391.34,22.62 L392.34,22.22 L393.34,21.84 L394.34,21.46 L395.35,21.09 L396.36,20.73 L397.37,20.37 L398.38,20.03 L399.40,19.69 L400.42,19.37 L401.44,19.05 L402.46,18.75 L403.49,18.46 L404.52,18.17 L405.56,17.89 L406.60,17.62 L407.63,17.35 L408.67,17.08 L409.71,16.82 L410.75,16.55 L411.78,16.29 L412.82,16.03 L413.86,15.76 L414.90,15.51 L415.94,15.25 L416.98,15.01 L418.03,14.77 L419.07,14.54 L420.12,14.32 L421.17,14.10 L422.22,13.90 L423.27,13.70 L424.32,13.51 L425.38,13.32 L426.43,13.14 L427.49,12.96 L428.55,12.78 L429.60,12.60 L430.66,12.42 L431.71,12.25 L432.77,12.07 L433.83,11.90 L434.88,11.73 L435.94,11.57 L437.00,11.40 L438.06,11.24 L439.12,11.08 L440.17,10.92 L441.23,10.76 L442.29,10.61 L443.35,10.46 L444.41,10.31 L445.47,10.16 L446.53,10.02 L447.60,9.87 L448.66,9.73 L449.72,9.58 L450.78,9.43 L451.84,9.29 L452.90,9.14 L453.96,8.99 L455.02,8.84 L456.08,8.69 L457.14,8.55 L458.20,8.40" stroke="#1010ff" stroke-width="1.75" />
<path d="M278.10,231.90 L278.31,230.92 L278.53,229.94 L278.75,228.96 L278.97,227.98 L279.19,227.00 L279.42,226.03 L279.65,225.05 L279.88,224.07 L280.12,223.10 L280.36,222.13 L280.60,221.15 L280.84,220.18 L281.09,219.21 L281.34,218.23 L281.59,217.26 L281.84,216.29 L282.09,215.32 L282.35,214.35 L282.60,213.38 L282.86,212.41 L283.12,211.44 L283.38,210.47 L283.63,209.50 L283.89,208.53 L284.15,207.56 L284.41,206.59 L284.67,205.62 L284.93,204.66 L285.20,203.69 L285.46,202.72 L285.73,201.75 L285.99,200.78 L286.25,199.81 L286.51,198.84 L286.76,197.87 L287.01,196.90 L287.26,195.93 L287.51,194.96 L287.76,193.99 L288.01,193.01 L288.25,192.04 L288.50,191.07 L288.74,190.10 L288.99,189.12 L289.23,188.15 L289.48,187.18 L289.73,186.21 L289.98,185.23 L290.22,184.26 L290.47,183.29 L290.73,182.32 L290.98,181.35 L291.24,180.38 L291.49,179.41 L291.75,178.44 L292.02,177.47 L292.28,176.50 L292.55,175.54 L292.81,174.57 L293.08,173.60 L293.35,172.64 L293.62,171.67 L293.89,170.70 L294.16,169.74 L294.43,168.77 L294.71,167.81 L294.98,166.84 L295.26,165.88 L295.54,164.91 L295.82,163.95 L296.10,162.99 L296.38,162.02 L296.66,161.06 L296.94,160.10 L297.23,159.13 L297.51,158.17 L297.80,157.21 L298.08,156.25 L298.37,155.29 L298.66,154.33 L298.95,153.37 L299.24,152.41 L299.54,151.45 L299.83,150.49 L300.13,149.53 L300.42,148.57 L300.72,147.61 L301.01,146.66 L301.31,145.70 L301.61,144.74 L301.91,143.78 L302.22,142.82 L302.52,141.87 L302.83,140.91 L303.13,139.96 L303.44,139.00 L303.75,138.05 L304.06,137.09 L304.38,136.14 L304.69,135.19 L305.01,134.24 L305.33,133.28 L305.65,132.33 L305.97,131.39 L306.30,130.44 L306.63,129.49 L306.96,128.54 L307.30,127.60 L307.64,126.66 L307.98,125.72 L308.33,124.78 L308.69,123.84 L309.04,122.90 L309.40,121.96 L309.76,121.03 L310.13,120.09 L310.49,119.16 L310.86,118.22 L311.22,117.29 L311.59,116.35 L311.95,115.42 L312.32,114.48 L312.68,113.55 L313.04,112.61 L313.40,111.67 L313.75,110.73 L314.11,109.79 L314.45,108.85 L314.80,107.91 L315.13,106.96 L315.47,106.02 L315.79,105.07 L316.11,104.12 L316.44,103.17 L316.75,102.21 L317.07,101.26 L317.39,100.31 L317.72,99.36 L318.04,98.41 L318.37,97.46 L318.71,96.52 L319.05,95.58 L319.40,94.64 L319.76,93.70 L320.13,92.77 L320.51,91.84 L320.90,90.92 L321.29,90.00 L321.70,89.08 L322.10,88.16 L322.52,87.24 L322.93,86.33 L323.35,85.42 L323.77,84.50 L324.19,83.59 L324.61,82.69 L325.04,81.78 L325.48,80.87 L325.92,79.97 L326.36,79.07 L326.80,78.17 L327.25,77.28 L327.71,76.38 L328.17,75.49 L328.63,74.60 L329.09,73.71 L329.56,72.82 L330.04,71.93 L330.52,71.05 L331.01,70.18 L331.51,69.31 L332.02,68.44 L332.54,67.59 L333.10,66.76 L333.66,65.93 L334.22,65.09 L334.74,64.24 L335.25,63.37 L335.74,62.49 L336.22,61.61 L336.70,60.72 L337.17,59.83 L337.66,58.95 L338.15,58.08 L338.66,57.22 L339.19,56.37 L339.74,55.54 L340.31,54.72 L340.90,53.91 L341.50,53.10 L342.11,52.30 L342.73,51.51 L343.36,50.73 L344.01,49.95 L344.65,49.18 L345.31,48.42 L345.97,47.67 L346.64,46.93 L347.32,46.19 L348.01,45.46 L348.71,44.74 L349.43,44.03 L350.15,43.33 L350.87,42.64 L351.61,41.96 L352.36,41.30 L353.12,40.65 L353.90,40.01 L354.69,39.39 L355.50,38.79 L356.31,38.21 L357.14,37.64 L357.97,37.07 L358.79,36.50 L359.61,35.92 L360.43,35.34 L361.24,34.75 L362.06,34.17 L362.88,33.58 L363.69,33.00 L364.51,32.42 L365.34,31.85 L366.16,31.28 L367.00,30.72 L367.84,30.18 L368.68,29.63 L369.52,29.08 L370.36,28.53 L371.21,27.98 L372.06,27.44 L372.91,26.90 L373.77,26.36 L374.63,25.84 L375.49,25.32 L376.36,24.82 L377.24,24.34 L378.12,23.87 L379.01,23.42 L379.91,22.99 L380.81,22.58 L381.72,22.18 L382.65,21.79 L383.58,21.42 L384.52,21.06 L385.46,20.70 L386.41,20.36 L387.36,20.03 L388.32,19.71 L389.27,19.39 L390.22,19.08 L391.18,18.78 L392.14,18.49 L393.10,18.21 L394.07,17.93 L395.03,17.67 L396.00,17.40 L396.97,17.15 L397.95,16.89 L398.92,16.65 L399.89,16.40 L400.87,16.16 L401.84,15.93 L402.82,15.70 L403.80,15.48 L404.78,15.26 L405.76,15.05 L406.74,14.83 L407.72,14.62 L408.70,14.41 L409.68,14.20 L410.66,13.99 L411.64,13.77 L412.62,13.56 L413.60,13.35 L414.58,13.14 L415.57,12.94 L416.55,12.73 L417.53,12.52 L418.51,12.32 L419.49,12.11 L420.48,11.91 L421.46,11.70 L422.44,11.49 L423.42,11.28 L424.40,11.07 L425.38,10.86 L426.37,10.66 L427.35,10.46 L428.33,10.26 L429.32,10.07 L430.30,9.88 L431.29,9.70 L432.28,9.53 L433.27,9.36 L434.26,9.20 L435.25,9.04 L436.24,8.88 L437.23,8.72 L438.22,8.55 L439.21,8.39 L440.20,8.22 L441.18,8.04 L442.17,7.86 L443.16,7.68 L444.14,7.50 L445.13,7.33 L446.12,7.16 L447.11,6.99 L448.10,6.82 L449.09,6.65 L450.08,6.48 L451.07,6.32 L452.06,6.15 L453.05,5.99 L454.04,5.83 L455.03,5.67 L456.02,5.51 L457.01,5.35 L458.00,5.20" stroke="#06993e" stroke-width="1.75" stroke-dasharray="2.1 2.56"/>
<path d="M277.60,200.90 L277.77,200.08 L277.94,199.26 L278.11,198.44 L278.29,197.62 L278.46,196.81 L278.63,195.99 L278.81,195.17 L278.99,194.35 L279.16,193.53 L279.34,192.72 L279.52,191.90 L279.70,191.08 L279.89,190.27 L280.07,189.45 L280.25,188.64 L280.44,187.82 L280.62,187.00 L280.81,186.19 L281.00,185.37 L281.19,184.56 L281.38,183.74 L281.57,182.93 L281.76,182.12 L281.95,181.30 L282.14,180.49 L282.34,179.68 L282.53,178.86 L282.73,178.05 L282.92,177.24 L283.12,176.43 L283.32,175.61 L283.52,174.80 L283.72,173.99 L283.92,173.18 L284.12,172.37 L284.33,171.56 L284.53,170.75 L284.74,169.94 L284.95,169.13 L285.16,168.32 L285.37,167.51 L285.58,166.70 L285.79,165.89 L286.01,165.08 L286.22,164.27 L286.44,163.46 L286.65,162.65 L286.87,161.85 L287.09,161.04 L287.30,160.23 L287.52,159.42 L287.74,158.62 L287.96,157.81 L288.19,157.00 L288.41,156.20 L288.63,155.39 L288.85,154.58 L289.08,153.78 L289.30,152.97 L289.53,152.17 L289.75,151.36 L289.98,150.56 L290.21,149.75 L290.45,148.95 L290.68,148.15 L290.92,147.35 L291.15,146.54 L291.39,145.74 L291.63,144.94 L291.86,144.14 L292.09,143.33 L292.33,142.53 L292.56,141.73 L292.79,140.92 L293.02,140.12 L293.25,139.32 L293.48,138.51 L293.71,137.71 L293.94,136.90 L294.18,136.10 L294.41,135.30 L294.64,134.49 L294.87,133.69 L295.10,132.88 L295.33,132.08 L295.56,131.28 L295.80,130.47 L296.03,129.67 L296.26,128.87 L296.50,128.07 L296.73,127.26 L296.96,126.46 L297.20,125.66 L297.44,124.86 L297.67,124.05 L297.91,123.25 L298.14,122.45 L298.38,121.64 L298.61,120.84 L298.85,120.04 L299.09,119.24 L299.32,118.43 L299.56,117.63 L299.79,116.83 L300.03,116.03 L300.27,115.23 L300.51,114.42 L300.74,113.62 L300.98,112.82 L301.22,112.02 L301.46,111.22 L301.70,110.42 L301.94,109.62 L302.19,108.82 L302.43,108.02 L302.67,107.22 L302.92,106.42 L303.16,105.62 L303.41,104.82 L303.66,104.02 L303.90,103.22 L304.15,102.42 L304.40,101.62 L304.65,100.83 L304.91,100.03 L305.16,99.23 L305.41,98.43 L305.67,97.64 L305.92,96.84 L306.18,96.04 L306.44,95.25 L306.69,94.45 L306.95,93.66 L307.21,92.86 L307.48,92.07 L307.74,91.27 L308.01,90.48 L308.28,89.69 L308.55,88.90 L308.82,88.11 L309.10,87.32 L309.37,86.53 L309.66,85.74 L309.94,84.96 L310.23,84.17 L310.51,83.39 L310.80,82.60 L311.10,81.82 L311.39,81.04 L311.69,80.26 L311.98,79.47 L312.28,78.69 L312.58,77.91 L312.89,77.13 L313.19,76.35 L313.50,75.57 L313.81,74.80 L314.12,74.02 L314.43,73.24 L314.74,72.47 L315.06,71.69 L315.37,70.92 L315.69,70.14 L316.01,69.37 L316.33,68.59 L316.65,67.82 L316.97,67.05 L317.29,66.28 L317.62,65.51 L317.94,64.74 L318.27,63.97 L318.59,63.20 L318.92,62.43 L319.25,61.66 L319.58,60.89 L319.91,60.12 L320.25,59.35 L320.59,58.59 L320.94,57.83 L321.29,57.07 L321.65,56.31 L322.02,55.57 L322.39,54.82 L322.77,54.08 L323.16,53.33 L323.55,52.59 L323.95,51.85 L324.35,51.12 L324.77,50.39 L325.19,49.66 L325.62,48.94 L326.05,48.23 L326.50,47.52 L326.95,46.82 L327.41,46.14 L327.89,45.45 L328.38,44.77 L328.88,44.10 L329.39,43.43 L329.91,42.77 L330.44,42.11 L330.98,41.47 L331.52,40.84 L332.08,40.21 L332.64,39.60 L333.21,39.00 L333.80,38.40 L334.39,37.81 L335.00,37.23 L335.61,36.66 L336.24,36.10 L336.87,35.54 L337.51,35.00 L338.15,34.46 L338.80,33.94 L339.45,33.42 L340.12,32.92 L340.79,32.43 L341.47,31.94 L342.16,31.47 L342.86,31.00 L343.56,30.54 L344.26,30.08 L344.97,29.63 L345.68,29.19 L346.39,28.75 L347.10,28.31 L347.82,27.88 L348.54,27.45 L349.26,27.03 L349.98,26.61 L350.71,26.19 L351.44,25.78 L352.18,25.38 L352.91,24.98 L353.65,24.59 L354.39,24.21 L355.14,23.83 L355.88,23.45 L356.63,23.07 L357.38,22.69 L358.13,22.32 L358.88,21.94 L359.63,21.57 L360.39,21.21 L361.15,20.85 L361.91,20.50 L362.67,20.15 L363.44,19.81 L364.20,19.47 L364.98,19.15 L365.75,18.84 L366.52,18.53 L367.30,18.24 L368.08,17.96 L368.87,17.68 L369.66,17.42 L370.45,17.16 L371.25,16.91 L372.05,16.66 L372.85,16.42 L373.65,16.18 L374.46,15.95 L375.27,15.73 L376.07,15.50 L376.88,15.28 L377.69,15.06 L378.50,14.84 L379.31,14.62 L380.12,14.40 L380.92,14.19 L381.73,13.97 L382.54,13.76 L383.35,13.56 L384.16,13.35 L384.98,13.15 L385.79,12.95 L386.60,12.75 L387.41,12.56 L388.23,12.36 L389.04,12.16 L389.85,11.96 L390.66,11.76 L391.48,11.56 L392.29,11.37 L393.10,11.17 L393.92,10.98 L394.73,10.78 L395.54,10.59 L396.36,10.39 L397.17,10.20 L397.98,10.00 L398.80,9.81 L399.61,9.62 L400.42,9.42 L401.24,9.23 L402.05,9.03 L402.86,8.84 L403.68,8.64 L404.49,8.44 L405.30,8.25 L406.11,8.05 L406.93,7.86 L407.74,7.67 L408.56,7.48 L409.37,7.29 L410.19,7.10 L411.00,6.92 L411.82,6.74 L412.64,6.56 L413.45,6.38 L414.27,6.20 L415.09,6.03 L415.91,5.85 L416.72,5.68 L417.54,5.51 L418.36,5.34 L419.18,5.17 L420.00,5.00" stroke="#ff0000" stroke-width="1.75" stroke-dasharray="4.8 4.5"/>
</g>
<circle cx="327.2" cy="186.7" r="4.15" fill="#000"/>
<path d="M314.8,207.9 L339.9,207.9" stroke="#1010ff" stroke-width="1.9"  fill="none"/>
<path d="M314.8,228.9 L339.9,228.9" stroke="#06993e" stroke-width="1.9" stroke-dasharray="2.1 2.56" fill="none"/>
<path d="M314.8,249.9 L339.9,249.9" stroke="#ff0000" stroke-width="1.9" stroke-dasharray="4.8 4.5" fill="none"/>
<text x="51.1" y="305.8" font-size="14" text-anchor="middle" font-family="Liberation Serif, serif" fill="#151515" style="font-kerning:none" >15</text>
<text x="271.4" y="305.8" font-size="14" text-anchor="middle" font-family="Liberation Serif, serif" fill="#151515" style="font-kerning:none" >15</text>
<text x="106.0" y="305.8" font-size="14" text-anchor="middle" font-family="Liberation Serif, serif" fill="#151515" style="font-kerning:none" >20</text>
<text x="326.3" y="305.8" font-size="14" text-anchor="middle" font-family="Liberation Serif, serif" fill="#151515" style="font-kerning:none" >20</text>
<text x="160.8" y="305.8" font-size="14" text-anchor="middle" font-family="Liberation Serif, serif" fill="#151515" style="font-kerning:none" >25</text>
<text x="381.2" y="305.8" font-size="14" text-anchor="middle" font-family="Liberation Serif, serif" fill="#151515" style="font-kerning:none" >25</text>
<text x="215.7" y="305.8" font-size="14" text-anchor="middle" font-family="Liberation Serif, serif" fill="#151515" style="font-kerning:none" >30</text>
<text x="436.2" y="305.8" font-size="14" text-anchor="middle" font-family="Liberation Serif, serif" fill="#151515" style="font-kerning:none" >30</text>
<text x="144.3" y="322.3" font-size="14.7" text-anchor="middle" font-family="Liberation Serif, serif" fill="#151515" style="font-kerning:none" >E&#160;&#160;(MeV)</text>
<text x="364.8" y="322.3" font-size="14.7" text-anchor="middle" font-family="Liberation Serif, serif" fill="#151515" style="font-kerning:none" >E&#160;&#160;(MeV)</text>
<text x="43.8" y="292.6" font-size="14" text-anchor="end" font-family="Liberation Serif, serif" fill="#151515" style="font-kerning:none" >0</text>
<text x="43.8" y="176.2" font-size="14" text-anchor="end" font-family="Liberation Serif, serif" fill="#151515" style="font-kerning:none" >500</text>
<text x="43.8" y="59.9" font-size="14" text-anchor="end" font-family="Liberation Serif, serif" fill="#151515" style="font-kerning:none" >1000</text>
<text x="266.3" y="293.1" text-anchor="end" font-family="Liberation Serif, serif" fill="#151515" style="font-kerning:none" font-size="13.8">10<tspan font-size="8.3" dy="-7.3">-2</tspan></text>
<text x="266.3" y="237.9" text-anchor="end" font-family="Liberation Serif, serif" fill="#151515" style="font-kerning:none" font-size="13.8">10<tspan font-size="8.3" dy="-7.3">-1</tspan></text>
<text x="266.3" y="182.8" text-anchor="end" font-family="Liberation Serif, serif" fill="#151515" style="font-kerning:none" font-size="13.8">10<tspan font-size="8.3" dy="-7.3">0</tspan></text>
<text x="266.3" y="127.6" text-anchor="end" font-family="Liberation Serif, serif" fill="#151515" style="font-kerning:none" font-size="13.8">10<tspan font-size="8.3" dy="-7.3">1</tspan></text>
<text x="266.3" y="72.5" text-anchor="end" font-family="Liberation Serif, serif" fill="#151515" style="font-kerning:none" font-size="13.8">10<tspan font-size="8.3" dy="-7.3">2</tspan></text>
<text x="266.3" y="17.3" text-anchor="end" font-family="Liberation Serif, serif" fill="#151515" style="font-kerning:none" font-size="13.8">10<tspan font-size="8.3" dy="-7.3">3</tspan></text>
<g transform="translate(13.1,172.2) rotate(-90) scale(1,1.06)" font-family="Liberation Serif, serif" fill="#151515" style="font-kerning:none"><text x="0" y="0" font-size="15.2">&#963;</text><text x="8.6" y="2.8" font-size="7.5">F</text><text x="20.6" y="0" font-size="14.2">(mb)</text></g>
<text transform="translate(62.2,39.7) scale(1,1.06)" font-family="Liberation Serif, serif" fill="#151515" style="font-kerning:none" font-size="14.0">4</text>
<text transform="translate(69.5,47.8) scale(1,1.195)" font-family="Liberation Serif, serif" fill="#151515" style="font-kerning:none" font-size="22.6">He +</text>
<text transform="translate(120.1,39.8) scale(1,1.08)" font-family="Liberation Serif, serif" fill="#151515" style="font-kerning:none" font-size="14.0">209</text>
<text transform="translate(142.0,47.8) scale(1,1.195)" font-family="Liberation Serif, serif" fill="#151515" style="font-kerning:none" font-size="22.6">Bi</text>
<text transform="translate(325.9,142.0) scale(1,0.94)" font-family="Liberation Serif, serif" fill="#151515" style="font-kerning:none" font-size="16.5">4</text>
<text transform="translate(333.6,150.6) scale(1,1.0)" font-family="Liberation Serif, serif" fill="#151515" style="font-kerning:none" font-size="28.4">He +</text>
<text transform="translate(395.3,142.0) scale(1,0.95)" font-family="Liberation Serif, serif" fill="#151515" style="font-kerning:none" font-size="16.7">209</text>
<text transform="translate(420.5,150.6) scale(1,1.0)" font-family="Liberation Serif, serif" fill="#151515" style="font-kerning:none" font-size="28.4">Bi</text>
<text x="347.3" y="192.7" font-size="17.3" text-anchor="start" font-family="Liberation Serif, serif" fill="#151515" style="font-kerning:none" >experiment</text>
<text x="347.3" y="213.8" font-size="17.0" text-anchor="start" font-family="Liberation Serif, serif" fill="#151515" style="font-kerning:none" >CC with SP</text>
<text x="347.3" y="235.0" font-size="17.0" text-anchor="start" font-family="Liberation Serif, serif" fill="#151515" style="font-kerning:none" >CC with AW</text>
<text x="347.3" y="256.2" font-size="17.0" text-anchor="start" font-family="Liberation Serif, serif" fill="#151515" style="font-kerning:none" >CC with Prox</text>
</svg>
</body></html>
